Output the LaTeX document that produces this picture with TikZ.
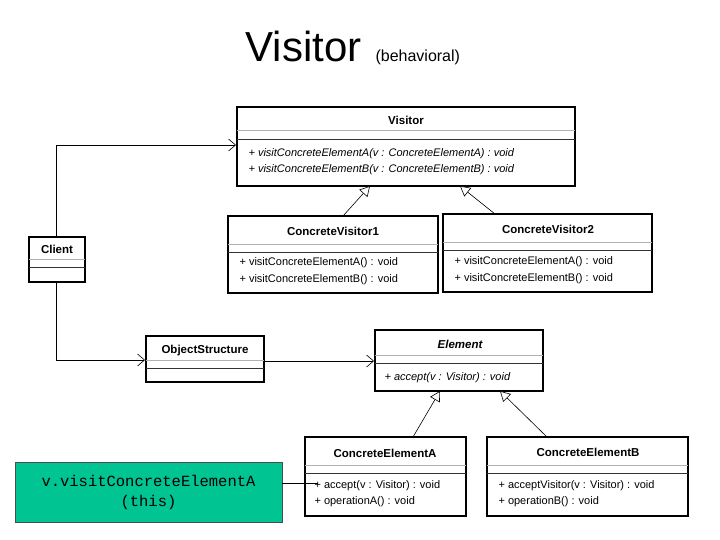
\documentclass[tikz,border=0pt]{standalone}
\usepackage{fontspec}
\setmainfont{Liberation Sans}
\newfontfamily\codefont{Liberation Mono}
\usetikzlibrary{arrows.meta, calc}
\definecolor{notegreen}{RGB}{0,196,146}
\tikzset{
  cls/.style={draw, line width=2pt, fill=white, inner sep=0pt},
  sep/.style={draw=gray!60, line width=1pt},
  sepb/.style={draw=black!80, line width=.6pt},
  cname/.style={font=\fontsize{11.5}{13}\selectfont\bfseries},
  meth/.style={font=\fontsize{11}{13}\selectfont, anchor=west},
  imeth/.style={meth, font=\fontsize{11}{13}\selectfont\itshape},
  assoc/.style={-{Straight Barb[length=7pt, width=12pt]}, line width=.6pt},
  inherit/.style={-{Triangle[open, fill=white, length=10pt, width=11pt]}, line width=.6pt}
}
% class box: name, left, top, right, bottom, title row height
\newcommand\umlbox[6]{%
  \node[cls, minimum width=#4-#2, minimum height=#5-#3] (#1) at ({(#2+#4)/2},{(#3+#5)/2}) {};
  \draw[sep] (#2,#3+#6) -- (#4,#3+#6);
  \draw[sepb] (#2,#3+#6+8) -- (#4,#3+#6+8);
}
\begin{document}
\begin{tikzpicture}[x=1pt, y=-1pt]
  \useasboundingbox (0,0) rectangle (720,540);
  \node[font=\fontsize{42}{44}\selectfont, anchor=base east] (title) at (365,62) {Visitor};
  \node[font=\fontsize{16}{18}\selectfont, anchor=base west] (sub) at (372,62) {(behavioral)};

  \umlbox{visitor}{237}{107}{575}{186}{24}
  \node[cname] at (406,120) {Visitor};
  \node[imeth] at (245,154) {+ visitConcreteElementA(v : ConcreteElementA) : void};
  \node[imeth] at (245,170) {+ visitConcreteElementB(v : ConcreteElementB) : void};

  \umlbox{cv1}{228}{216}{438}{293}{28}
  \node[cname] at (333,231) {ConcreteVisitor1};
  \node[meth] at (236,263) {+ visitConcreteElementA() : void};
  \node[meth] at (236,280) {+ visitConcreteElementB() : void};

  \umlbox{cv2}{443}{214}{652}{292}{28}
  \node[cname] at (548,229) {ConcreteVisitor2};
  \node[meth] at (451,262) {+ visitConcreteElementA() : void};
  \node[meth] at (451,279) {+ visitConcreteElementB() : void};

  \umlbox{client}{29}{237}{85}{282}{22}
  \node[cname] at (57,249) {Client};

  \umlbox{objstr}{146}{336}{264}{382}{24}
  \node[cname] at (205,351) {ObjectStructure};

  \umlbox{element}{375}{330}{543}{391}{25}
  \node[cname, font=\fontsize{11.5}{13}\selectfont\bfseries\itshape] at (460,344) {Element};
  \node[imeth] at (381,378) {+ accept(v : Visitor) : void};

  \umlbox{cea}{305}{437}{466}{516}{28}
  \node[cname] at (385,453) {ConcreteElementA};
  \node[meth] at (311,486) {+ accept(v : Visitor) : void};
  \node[meth] at (311,502) {+ operationA() : void};

  \umlbox{ceb}{487}{437}{688}{516}{28}
  \node[cname] at (588,452) {ConcreteElementB};
  \node[meth] at (495,486) {+ acceptVisitor(v : Visitor) : void};
  \node[meth] at (495,502) {+ operationB() : void};

  \node[draw=black!70, fill=notegreen, minimum width=267pt, minimum height=60pt,
    align=center, font=\codefont\fontsize{15.5}{20}\selectfont] (note) at (148.5,492)
    {v.visitConcreteElementA\\(this)};

  % connectors
  \coordinate (cup) at (56,145);
  \coordinate (cdown) at (56,360);
  \draw[assoc] (client.north -| cup) -- (cup) -- (cup -| visitor.west);
  \draw[assoc] (client.south -| cdown) -- (cdown) -- (cdown -| objstr.west);
  \draw[assoc] (objstr.east |- 0,361) -- (element.west |- 0,361);
  \draw[inherit] (343,216) -- (370,186);
  \draw[inherit] (495,214) -- (460,186);
  \draw[inherit] (413,437) -- (440,391);
  \draw[inherit] (547,437) -- (500,391);
  \draw[line width=.6pt] (note.east |- 0,483) -- (318,483);
\end{tikzpicture}
\end{document}
